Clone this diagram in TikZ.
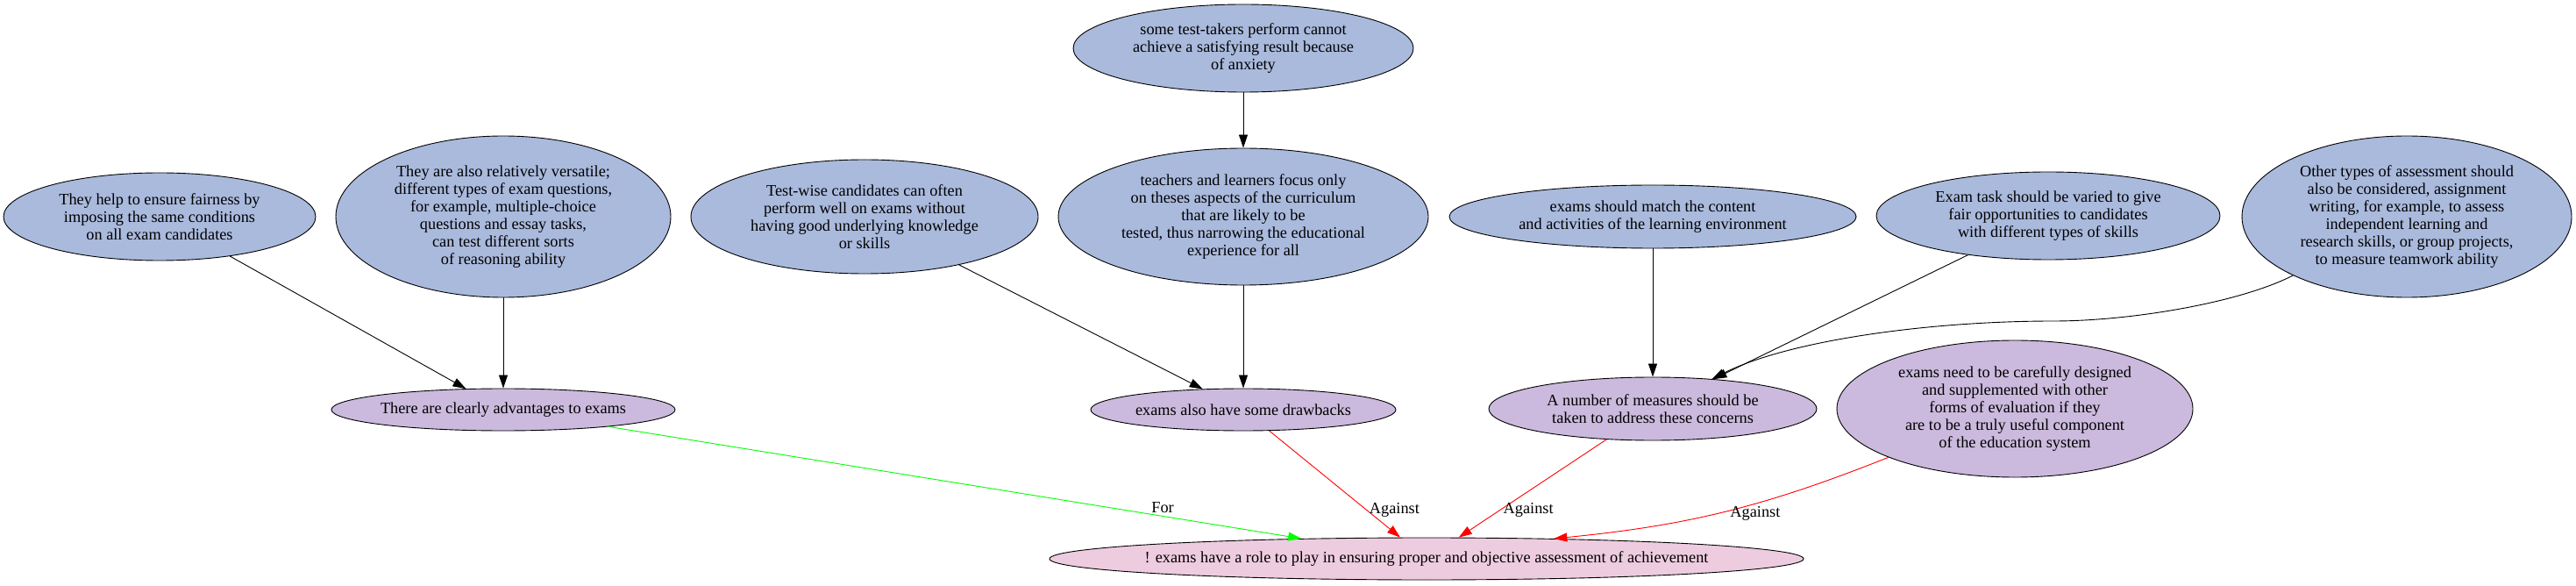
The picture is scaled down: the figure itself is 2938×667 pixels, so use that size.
\documentclass[tikz,border=0pt]{standalone}
\usepackage{fontspec}
\setmainfont{Liberation Serif}
\usetikzlibrary{arrows.meta, shapes}

\definecolor{premiseblue}{HTML}{AABADD}
\definecolor{claimpurple}{HTML}{CBBADD}
\definecolor{rootpink}{HTML}{EECCDF}

\begin{document}
\begin{tikzpicture}[
  x=1pt, y=1pt, line width=0.9pt,
  font=\fontsize{18.3}{20}\selectfont,
  every node/.style={align=center},
  premise/.style={draw, ellipse, fill=premiseblue, inner xsep=-60pt, inner ysep=-20pt},
  claim/.style={premise, fill=claimpurple},
  conclusion/.style={premise, fill=rootpink},
  to/.style={-{Triangle[length=15pt, width=10pt]}},
  pro/.style={to, green},
  contra/.style={to, red}]

  \useasboundingbox (0,0) rectangle (2938,667);

  % Position the nodes at the coordinates of the layout
  \node[premise, minimum width=356, minimum height=100] (fair) at (182,420) {They help to ensure fairness by \\ imposing the same conditions \\ on all exam candidates};
  \node[premise, minimum width=382, minimum height=184] (versatile) at (574,420) {They are also relatively versatile; \\ different types of exam questions, \\ for example, multiple-choice \\ questions and essay tasks, \\ can test different sorts \\ of reasoning ability};
  \node[claim, minimum width=392, minimum height=48] (advantages) at (574,200) {There are clearly advantages to exams};

  \node[premise, minimum width=396, minimum height=130] (testwise) at (986,420) {Test-wise candidates can often \\ perform well on exams without \\ having good underlying knowledge \\ or skills};
  \node[premise, minimum width=388, minimum height=100] (anxiety) at (1418,612) {some test-takers perform cannot \\ achieve a satisfying result because \\ of anxiety};
  \node[premise, minimum width=422, minimum height=156] (narrowing) at (1418,420) {teachers and learners focus only \\ on theses aspects of the curriculum \\ that are likely to be \\ tested, thus narrowing the educational \\ experience for all};
  \node[claim, minimum width=348, minimum height=48] (drawbacks) at (1418,200) {exams also have some drawbacks};

  \node[premise, minimum width=464, minimum height=72] (match) at (1885,420) {exams should match the content \\ and activities of the learning environment};
  \node[premise, minimum width=392, minimum height=100] (varied) at (2336,421) {Exam task should be varied to give \\ fair opportunities to candidates \\ with different types of skills};
  \node[premise, minimum width=376, minimum height=184] (othertypes) at (2745,420) {Other types of assessment should \\ also be considered, assignment \\ writing, for example, to assess \\ independent learning and \\ research skills, or group projects, \\ to measure teamwork ability};
  \node[claim, minimum width=374, minimum height=72] (measures) at (1885,201) {A number of measures should be \\ taken to address these concerns};
  \node[claim, minimum width=406, minimum height=156] (supplement) at (2298,201) {exams need to be carefully designed \\ and supplemented with other \\ forms of evaluation if they \\ are to be a truly useful component \\ of the education system};

  \node[conclusion, minimum width=860, minimum height=48] (role) at (1627,30) {! exams have a role to play in ensuring proper and objective assessment of achievement};

  \coordinate (dip) at (2342,301);

  % Draw the arrows between the nodes and label them.
  \draw[to] (fair) -- (advantages);
  \draw[to] (versatile) -- (advantages);
  \draw[to] (testwise) -- (drawbacks);
  \draw[to] (anxiety) -- (narrowing);
  \draw[to] (narrowing) -- (drawbacks);
  \draw[to] (match) -- (measures);
  \draw[to] (varied) -- (measures);
  \draw[to] (othertypes) .. controls (2555,322) and (2430,301) .. (dip)
    .. controls (2200,301) and (2040,279) .. (measures);

  \draw[pro] (advantages) -- node[pos=.8, above, text=black] {For} (role);
  \draw[contra] (drawbacks) -- node[pos=.74, right, text=black] {Against} (role);
  \draw[contra] (measures) -- node[pos=.72, right, text=black] {Against} (role);
  \draw[contra] (supplement.201) to[bend left=8] node[pos=.4, below, text=black] {Against} (role.9);

\end{tikzpicture}
\end{document}
